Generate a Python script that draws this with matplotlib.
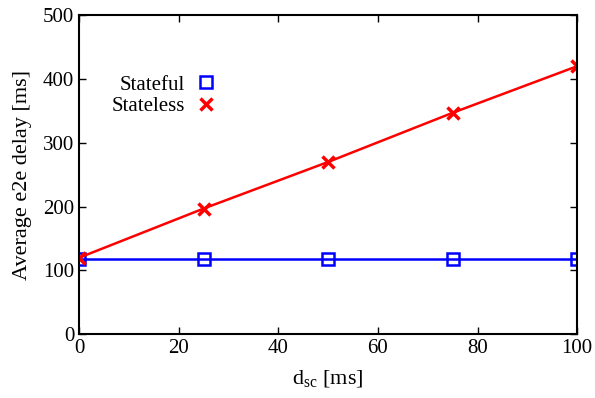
import matplotlib
matplotlib.use("Agg")
import matplotlib.pyplot as plt
from matplotlib.lines import Line2D

# data
d_sc = [0, 25, 50, 75, 100]
stateful = [118, 118, 118, 118, 118]
stateless = [120, 197, 270, 347, 420]

plt.rcParams['font.family'] = ['Liberation Serif', 'DejaVu Serif']
plt.rcParams['mathtext.fontset'] = 'custom'
plt.rcParams['mathtext.rm'] = 'Liberation Serif'
plt.rcParams['font.size'] = 16

fig, ax = plt.subplots(figsize=(5.95, 3.98), dpi=100)
fig.subplots_adjust(left=0.133, right=0.970, top=0.962, bottom=0.160)

ax.plot(d_sc, stateful, color='blue', lw=1.8, marker='s', ms=9,
        mfc='none', mew=1.8)
ax.plot(d_sc, stateless, color='red', lw=1.8, marker='x', ms=9, mew=2.5)

ax.set_xlim(0, 100)
ax.set_ylim(0, 500)
ax.set_xticks(range(0, 101, 20))
ax.set_yticks(range(0, 501, 100))
ax.tick_params(direction='in', top=True, right=True, length=5, width=1,
               labelsize=15)
for s in ax.spines.values():
    s.set_linewidth(1.5)

ax.set_xlabel(r'd$_\mathrm{sc}$ [ms]', labelpad=8)
ax.set_ylabel('Average e2e delay [ms]', labelpad=8)

# legend entries show only the point symbol
handles = [
    Line2D([], [], ls='none', color='blue', marker='s', ms=9, mfc='none', mew=1.8),
    Line2D([], [], ls='none', color='red', marker='x', ms=9, mew=2.5),
]
ax.legend(handles, ['Stateful', 'Stateless'], loc='upper left',
          bbox_to_anchor=(0.045, 0.845), frameon=False, markerfirst=False,
          handlelength=1.0, handletextpad=0.5, labelspacing=0.1, borderpad=0,
          fontsize=15)

fig.savefig('out.png', dpi=100)
